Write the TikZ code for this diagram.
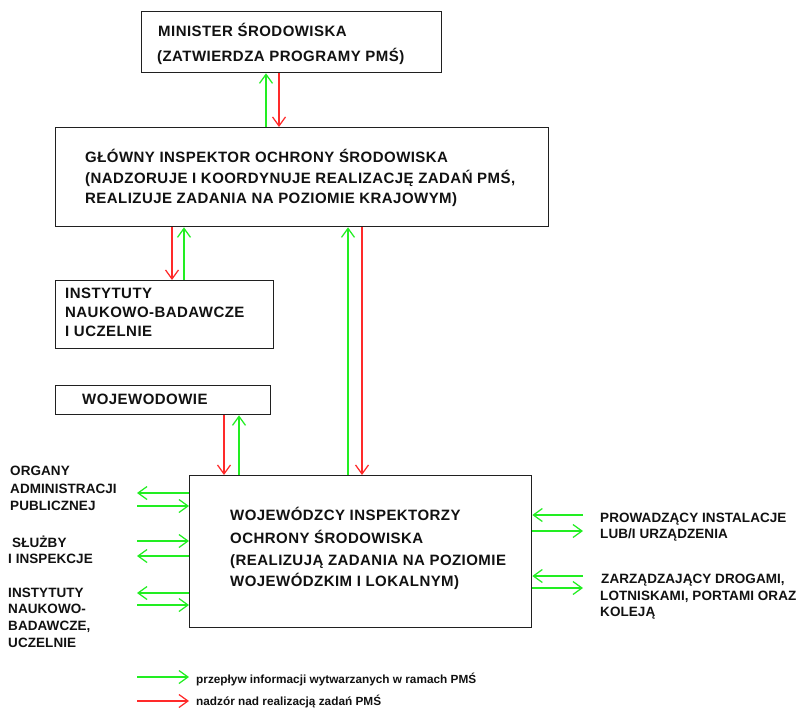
\documentclass[tikz,border=0pt]{standalone}
\usepackage{fontspec}
\setmainfont{Liberation Sans}
\newfontfamily\wideface[LetterSpace=3]{Liberation Sans}
\newfontfamily\sideface[LetterSpace=0.5]{Liberation Sans}
\newfontfamily\keyface{Liberation Sans}
\usetikzlibrary{arrows.meta}
\definecolor{infogreen}{HTML}{22EE22}
\definecolor{ctrlred}{HTML}{FF2A2A}
\definecolor{boxline}{HTML}{202020}
\definecolor{ink}{HTML}{111111}

\begin{document}
\begin{tikzpicture}[x=1pt,y=-1pt,
  box/.style={draw=boxline, line width=1.3pt, anchor=north west, inner sep=0pt},
  maintext/.style={anchor=base west, inner sep=0pt, text=ink,
    font=\wideface\bfseries\fontsize{15}{17}\selectfont},
  sidetext/.style={anchor=base west, inner sep=0pt, text=ink,
    font=\sideface\bfseries\fontsize{13.5}{15}\selectfont},
  keytext/.style={anchor=base west, inner sep=0pt, text=ink,
    font=\keyface\bfseries\fontsize{11.8}{13}\selectfont},
  flow/.style={line width=1.25pt, -{Straight Barb[length=9pt,width=13pt]}},
  info/.style={flow, draw=infogreen},
  ctrl/.style={flow, draw=ctrlred}
]
\useasboundingbox (0,0) rectangle (802,709);

% ---- boxes ----
\node[box, minimum width=300pt, minimum height=61pt] (min) at (141,11) {};
\node[box, minimum width=493pt, minimum height=99pt] (gios) at (55,127) {};
\node[box, minimum width=218pt, minimum height=68pt] (inst) at (55,280) {};
\node[box, minimum width=215pt, minimum height=29pt] (woj) at (55,385) {};
\node[box, minimum width=342pt, minimum height=152pt] (wios) at (189,475) {};

% ---- box texts ----
\node[maintext] (min1) at (158,37) {MINISTER ŚRODOWISKA};
\node[maintext] (min2) at (157,61) {(ZATWIERDZA PROGRAMY PMŚ)};

\node[maintext] (gios1) at (85,162) {GŁÓWNY INSPEKTOR OCHRONY ŚRODOWISKA};
\node[maintext] (gios2) at (85,183) {(NADZORUJE I KOORDYNUJE REALIZACJĘ ZADAŃ PMŚ,};
\node[maintext] (gios3) at (85,203) {REALIZUJE ZADANIA NA POZIOMIE KRAJOWYM)};

\node[maintext] (inst1) at (65,298) {INSTYTUTY};
\node[maintext] (inst2) at (65,317) {NAUKOWO-BADAWCZE};
\node[maintext] (inst3) at (65,336) {I UCZELNIE};

\node[maintext] (woj1) at (82,404) {WOJEWODOWIE};

\node[maintext] (wios1) at (230,520) {WOJEWÓDZCY INSPEKTORZY};
\node[maintext] (wios2) at (230,543) {OCHRONY ŚRODOWISKA};
\node[maintext] (wios3) at (230,565) {(REALIZUJĄ ZADANIA NA POZIOMIE};
\node[maintext] (wios4) at (230,586) {WOJEWÓDZKIM I LOKALNYM)};

% ---- side labels ----
\node[sidetext] (org1) at (10,475) {ORGANY};
\node[sidetext] (org2) at (10,493) {ADMINISTRACJI};
\node[sidetext] (org3) at (10,510) {PUBLICZNEJ};
\node[sidetext] (sl1) at (12,547) {SŁUŻBY};
\node[sidetext] (sl2) at (8,563) {I INSPEKCJE};
\node[sidetext] (nb1) at (8,597) {INSTYTUTY};
\node[sidetext] (nb2) at (8,613) {NAUKOWO-};
\node[sidetext] (nb3) at (8,630) {BADAWCZE,};
\node[sidetext] (nb4) at (8,647) {UCZELNIE};

\node[sidetext] (pr1) at (600,522) {PROWADZĄCY INSTALACJE};
\node[sidetext] (pr2) at (600,538) {LUB/I URZĄDZENIA};
\node[sidetext] (zd1) at (601,583) {ZARZĄDZAJĄCY DROGAMI,};
\node[sidetext] (zd2) at (600,600) {LOTNISKAMI, PORTAMI ORAZ};
\node[sidetext] (zd3) at (600,616) {KOLEJĄ};

% ---- vertical links between boxes ----
\draw[info] (gios.north -| 266,0) -- (min.south -| 266,0);
\draw[ctrl] (min.south -| 279,0) -- (gios.north -| 279,0);

\draw[ctrl] (gios.south -| 172,0) -- (inst.north -| 172,0);
\draw[info] (inst.north -| 184,0) -- (gios.south -| 184,0);

\draw[info] (wios.north -| 348,0) -- (gios.south -| 348,0);
\draw[ctrl] (gios.south -| 362,0) -- (wios.north -| 362,0);

\draw[ctrl] (woj.south -| 224,0) -- (wios.north -| 224,0);
\draw[info] (wios.north -| 239,0) -- (woj.south -| 239,0);

% ---- side exchanges of information ----
\coordinate (lo1) at (137,493);
\coordinate (li1) at (137,506);
\coordinate (li2) at (137,541);
\coordinate (lo2) at (137,556);
\coordinate (lo3) at (137,593);
\coordinate (li3) at (137,605);
\draw[info] (wios.west |- lo1) -- (lo1);
\draw[info] (li1) -- (wios.west |- li1);
\draw[info] (li2) -- (wios.west |- li2);
\draw[info] (wios.west |- lo2) -- (lo2);
\draw[info] (wios.west |- lo3) -- (lo3);
\draw[info] (li3) -- (wios.west |- li3);

\coordinate (ri1) at (583,515);
\coordinate (ro1) at (583,531);
\coordinate (ri2) at (583,576);
\coordinate (ro2) at (583,588);
\draw[info] (ri1) -- (wios.east |- ri1);
\draw[info] (wios.east |- ro1) -- (ro1);
\draw[info] (ri2) -- (wios.east |- ri2);
\draw[info] (wios.east |- ro2) -- (ro2);

% ---- legend ----
\coordinate (k1a) at (137,677);
\coordinate (k1b) at (189,677);
\coordinate (k2a) at (137,701);
\coordinate (k2b) at (189,701);
\draw[info] (k1a) -- (k1b);
\draw[ctrl] (k2a) -- (k2b);
\node[keytext] (key1) at (196,683) {przepływ informacji wytwarzanych w ramach PMŚ};
\node[keytext] (key2) at (196,705) {nadzór nad realizacją zadań PMŚ};
\end{tikzpicture}
\end{document}
